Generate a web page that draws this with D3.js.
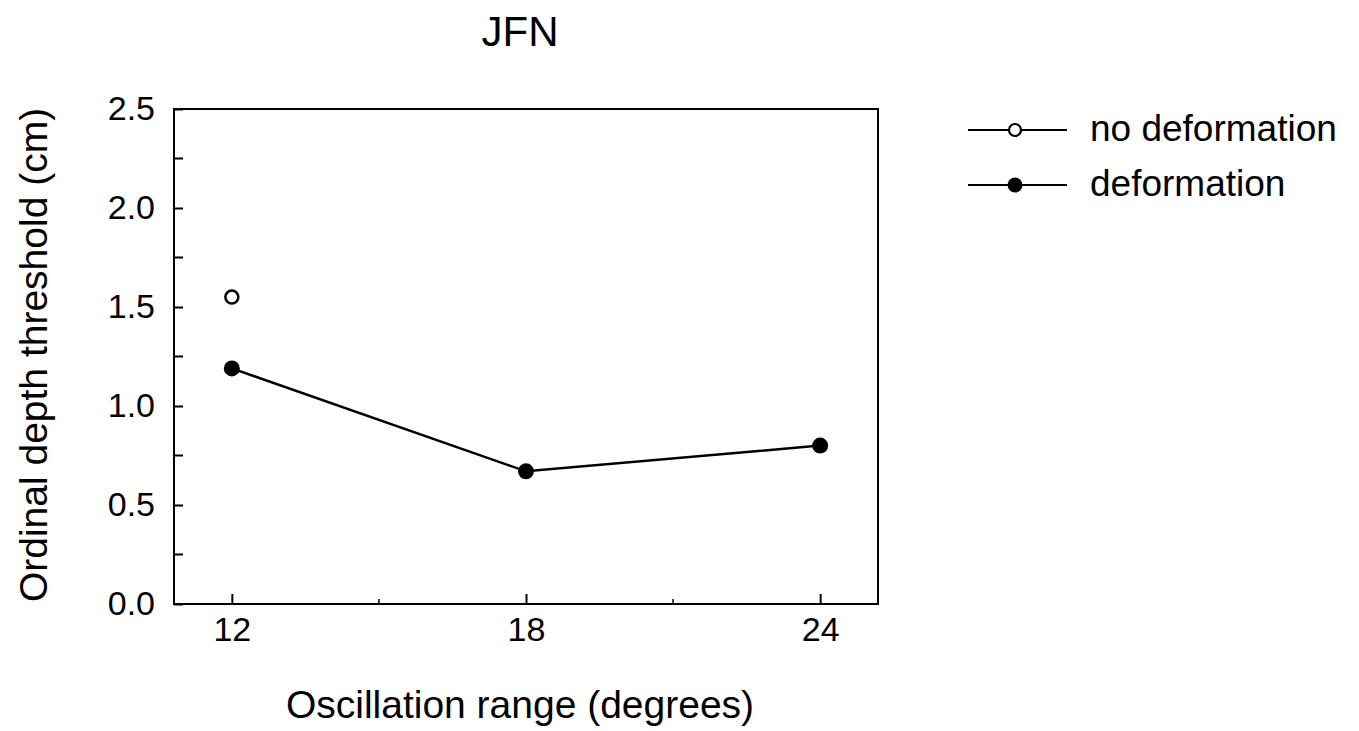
<!doctype html>
<html>
<head>
<meta charset="utf-8">
<title>JFN</title>
<script src="https://d3js.org/d3.v7.min.js"></script>
<style>
  body { margin: 0; background: #fff; }
  svg text { font-family: "Liberation Sans", Arial, sans-serif; fill: #000; }
</style>
</head>
<body>
<svg id="chart" width="1359" height="731"></svg>
<script>
// data
const ranges = [12, 18, 24];
const noDeformation = [1.55, null, null];
const deformation = [1.19, 0.67, 0.80];
const yTicks = [0, 0.5, 1.0, 1.5, 2.0, 2.5];
const yMinorTicks = [0.25, 0.75, 1.25, 1.75, 2.25];
const xMinorTicks = [15, 21];
const seriesNames = ['no deformation', 'deformation'];

const margin = { top: 109, left: 174, right: 1359 - 878, bottom: 731 - 604 };
const width = 1359 - margin.left - margin.right;
const height = 731 - margin.top - margin.bottom;

const svg = d3.select('#chart');
const g = svg.append('g').attr('transform', 'translate(' + margin.left + ',' + margin.top + ')');

const x = d3.scaleLinear().domain([10.82, 25.18]).range([0, width]);
const y = d3.scaleLinear().domain([0, 2.5]).range([height, 0]);

// frame
g.append('rect')
  .attr('width', width).attr('height', height)
  .attr('fill', 'none').attr('stroke', '#000').attr('stroke-width', 2);

// y axis, ticks pointing inward
const yAxis = g.append('g')
  .call(d3.axisLeft(y).tickValues(yTicks).tickFormat(d3.format('.1f')).tickSizeInner(-9).tickSizeOuter(0).tickPadding(19));
yAxis.select('.domain').remove();
yAxis.selectAll('line').attr('stroke-width', 2);
yAxis.selectAll('text').style('font-size', '34px').attr('dy', '0.3em');
g.append('g').selectAll('line').data(yMinorTicks).join('line')
  .attr('x1', 0).attr('x2', 9).attr('y1', d => y(d)).attr('y2', d => y(d))
  .attr('stroke', '#000').attr('stroke-width', 2);

// x axis
const xAxis = g.append('g').attr('transform', 'translate(0,' + height + ')')
  .call(d3.axisBottom(x).tickValues(ranges).tickSizeInner(-10).tickSizeOuter(0));
xAxis.select('.domain').remove();
xAxis.selectAll('line').attr('stroke-width', 2);
xAxis.selectAll('text').style('font-size', '34px').attr('y', 37).attr('dy', 0);
g.append('g').selectAll('line').data(xMinorTicks).join('line')
  .attr('x1', d => x(d)).attr('x2', d => x(d)).attr('y1', height).attr('y2', height - 5)
  .attr('stroke', '#000').attr('stroke-width', 1.5);

// deformation line
const pts = ranges.map((r, i) => ({ x: r, y: deformation[i] }));
g.append('path').datum(pts)
  .attr('fill', 'none').attr('stroke', '#000').attr('stroke-width', 2.5)
  .attr('d', d3.line().x(d => x(d.x)).y(d => y(d.y)));
g.append('g').selectAll('circle').data(pts).join('circle')
  .attr('cx', d => x(d.x)).attr('cy', d => y(d.y)).attr('r', 8).attr('fill', '#000');

// no deformation points
const openPts = ranges.map((r, i) => ({ x: r, y: noDeformation[i] })).filter(d => d.y !== null);
g.append('g').selectAll('circle').data(openPts).join('circle')
  .attr('cx', d => x(d.x)).attr('cy', d => y(d.y)).attr('r', 6.5)
  .attr('fill', '#fff').attr('stroke', '#000').attr('stroke-width', 2.5);

// title and axis labels
svg.append('text').attr('x', 520).attr('y', 46).attr('text-anchor', 'middle')
  .style('font-size', '42px').text('JFN');
svg.append('text').attr('x', 520).attr('y', 718).attr('text-anchor', 'middle')
  .style('font-size', '39px').text('Oscillation range (degrees)');
svg.append('text').attr('transform', 'translate(47,355) rotate(-90)').attr('text-anchor', 'middle')
  .style('font-size', '39px').text('Ordinal depth threshold (cm)');

// legend
const legend = svg.append('g').attr('transform', 'translate(968,130)');
seriesNames.forEach((name, i) => {
  const row = legend.append('g').attr('transform', 'translate(0,' + i * 55 + ')');
  row.append('line').attr('x1', 0).attr('x2', 99).attr('y1', 0).attr('y2', 0)
    .attr('stroke', '#000').attr('stroke-width', 2.2);
  if (i === 0) {
    row.append('circle').attr('cx', 47).attr('cy', 0).attr('r', 6)
      .attr('fill', '#fff').attr('stroke', '#000').attr('stroke-width', 2.2);
  } else {
    row.append('circle').attr('cx', 47).attr('cy', 0).attr('r', 7.5).attr('fill', '#000');
  }
  row.append('text').attr('x', 122).attr('y', 11).style('font-size', '37px').text(name);
});
</script>
</body>
</html>
